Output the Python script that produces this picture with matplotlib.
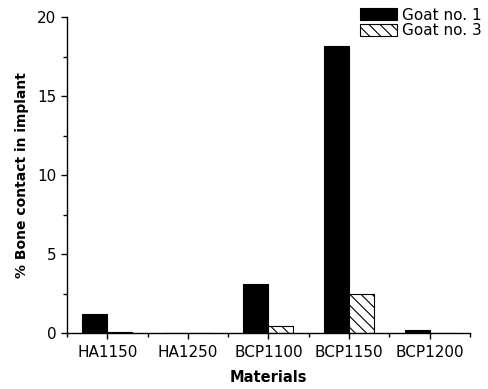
"""Bone contact in implant per material, two goats."""

import matplotlib
matplotlib.use("Agg")
import matplotlib.pyplot as plt
import numpy as np
from matplotlib.ticker import MultipleLocator

MATERIALS = ["HA1150", "HA1250", "BCP1100", "BCP1150", "BCP1200"]
GOAT_1 = [1.2, 0.0, 3.1, 18.2, 0.2]
GOAT_3 = [0.08, 0.0, 0.42, 2.5, 0.0]

plt.rcParams["font.family"] = ["DejaVu Sans"]
plt.rcParams["hatch.linewidth"] = 0.8


def main() -> None:
    x = np.arange(1, len(MATERIALS) + 1)
    width = 0.31

    fig = plt.figure(figsize=(4.89, 3.89), dpi=100)
    ax = fig.add_axes([0.137, 0.144, 0.824, 0.812])

    ax.bar(x, GOAT_1, -width, align="edge", color="black", edgecolor="black",
           linewidth=0.8, label="Goat no. 1")
    ax.bar(x, GOAT_3, width, align="edge", color="white", edgecolor="black",
           hatch="\\\\\\", linewidth=0.8, label="Goat no. 3")

    ax.set_xlim(0.5, 5.5)
    ax.set_ylim(0, 20)
    ax.set_xticks(x)
    ax.set_xticklabels(MATERIALS, fontsize=11)
    ax.xaxis.set_minor_locator(MultipleLocator(0.5))
    ax.yaxis.set_major_locator(MultipleLocator(5))
    ax.yaxis.set_minor_locator(MultipleLocator(2.5))
    ax.tick_params(axis="both", which="major", direction="out", length=4, width=1, labelsize=11)
    ax.tick_params(axis="x", which="major", pad=5)
    ax.tick_params(axis="both", which="minor", direction="out", length=3, width=1)

    for side in ("top", "right"):
        ax.spines[side].set_visible(False)
    for side in ("left", "bottom"):
        ax.spines[side].set_linewidth(1)

    ax.set_xlabel("Materials", fontsize=10.5, fontweight="bold", labelpad=7)
    ax.set_ylabel("% Bone contact in implant", fontsize=10, fontweight="bold", labelpad=6)

    fig.legend(loc="upper right", bbox_to_anchor=(1.0, 1.0), frameon=False, fontsize=11,
               handlelength=2.4, handleheight=0.8, handletextpad=0.3, labelspacing=0.05,
               borderaxespad=0.3, borderpad=0.2)

    fig.savefig("out.png", dpi=100)
    plt.close(fig)


if __name__ == "__main__":
    main()
